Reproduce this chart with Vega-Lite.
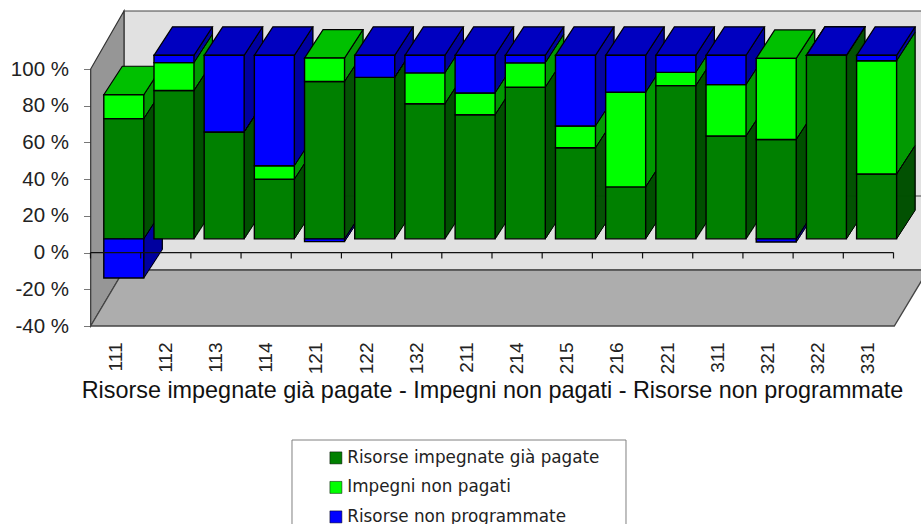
{
"$schema":"https://vega.github.io/schema/vega-lite/v6.json",
"autosize":{"type":"none"},
"padding":{"left":90.5,"top":69,"right":27.5,"bottom":198},
"width":803,"height":257,
"background":"white",
"config":{"view":{"stroke":null}},
"datasets":{"rows":[
{"cat":"111","series":"Risorse impegnate già pagate","order":1,"value":65.5},{"cat":"111","series":"Impegni non pagati","order":2,"value":13},{"cat":"111","series":"Risorse non programmate","order":3,"value":-21.3},
{"cat":"112","series":"Risorse impegnate già pagate","order":1,"value":80.8},{"cat":"112","series":"Impegni non pagati","order":2,"value":15.2},{"cat":"112","series":"Risorse non programmate","order":3,"value":4},
{"cat":"113","series":"Risorse impegnate già pagate","order":1,"value":58.2},{"cat":"113","series":"Impegni non pagati","order":2,"value":0},{"cat":"113","series":"Risorse non programmate","order":3,"value":41.8},
{"cat":"114","series":"Risorse impegnate già pagate","order":1,"value":32.5},{"cat":"114","series":"Impegni non pagati","order":2,"value":7.3},{"cat":"114","series":"Risorse non programmate","order":3,"value":60.2},
{"cat":"121","series":"Risorse impegnate già pagate","order":1,"value":85.7},{"cat":"121","series":"Impegni non pagati","order":2,"value":12.8},{"cat":"121","series":"Risorse non programmate","order":3,"value":-1.5},
{"cat":"122","series":"Risorse impegnate già pagate","order":1,"value":88},{"cat":"122","series":"Impegni non pagati","order":2,"value":0},{"cat":"122","series":"Risorse non programmate","order":3,"value":12},
{"cat":"132","series":"Risorse impegnate già pagate","order":1,"value":73.6},{"cat":"132","series":"Impegni non pagati","order":2,"value":16.8},{"cat":"132","series":"Risorse non programmate","order":3,"value":9.6},
{"cat":"211","series":"Risorse impegnate già pagate","order":1,"value":67.6},{"cat":"211","series":"Impegni non pagati","order":2,"value":11.9},{"cat":"211","series":"Risorse non programmate","order":3,"value":20.5},
{"cat":"214","series":"Risorse impegnate già pagate","order":1,"value":82.6},{"cat":"214","series":"Impegni non pagati","order":2,"value":13.3},{"cat":"214","series":"Risorse non programmate","order":3,"value":4.1},
{"cat":"215","series":"Risorse impegnate già pagate","order":1,"value":49.6},{"cat":"215","series":"Impegni non pagati","order":2,"value":11.9},{"cat":"215","series":"Risorse non programmate","order":3,"value":38.5},
{"cat":"216","series":"Risorse impegnate già pagate","order":1,"value":28.3},{"cat":"216","series":"Impegni non pagati","order":2,"value":51.6},{"cat":"216","series":"Risorse non programmate","order":3,"value":20.1},
{"cat":"221","series":"Risorse impegnate già pagate","order":1,"value":83.5},{"cat":"221","series":"Impegni non pagati","order":2,"value":7.2},{"cat":"221","series":"Risorse non programmate","order":3,"value":9.3},
{"cat":"311","series":"Risorse impegnate già pagate","order":1,"value":56},{"cat":"311","series":"Impegni non pagati","order":2,"value":28},{"cat":"311","series":"Risorse non programmate","order":3,"value":16},
{"cat":"321","series":"Risorse impegnate già pagate","order":1,"value":54.1},{"cat":"321","series":"Impegni non pagati","order":2,"value":44.2},{"cat":"321","series":"Risorse non programmate","order":3,"value":-1.7},
{"cat":"322","series":"Risorse impegnate già pagate","order":1,"value":100},{"cat":"322","series":"Impegni non pagati","order":2,"value":0},{"cat":"322","series":"Risorse non programmate","order":3,"value":0},
{"cat":"331","series":"Risorse impegnate già pagate","order":1,"value":35.3},{"cat":"331","series":"Impegni non pagati","order":2,"value":61.7},{"cat":"331","series":"Risorse non programmate","order":3,"value":3}
]},
"data":{"name":"rows"},
"transform":[{"stack":"value","groupby":["cat"],"sort":[{"field":"order"}],"as":["low","high"]}],
"encoding":{
"x":{"field":"cat","type":"ordinal","scale":{"type":"band","paddingInner":0,"paddingOuter":0,"domain":["111","112","113","114","121","122","132","211","214","215","216","221","311","321","322","331"]},
"axis":{"domain":false,"ticks":false,"labelAngle":-90,"labelAlign":"right","labelBaseline":"middle","labelPadding":16,"labelFont":"Liberation Sans","labelFontSize":19,"labelColor":"#222222","title":"Risorse impegnate già pagate - Impegni non pagati - Risorse non programmate","titleFont":"Liberation Sans","titleFontSize":23.4,"titleFontWeight":"normal","titleColor":"#111111","titlePadding":6}},
"y":{"field":"low","type":"quantitative","stack":null,"scale":{"domain":[-40,100],"nice":false,"zero":false},
"axis":{"values":[-40,-20,0,20,40,60,80,100],"labelExpr":"datum.value + ' %'","grid":false,"domain":false,"tickSize":7,"tickColor":"#777777","labelPadding":15,"labelFont":"Liberation Sans","labelFontSize":20.5,"labelColor":"#222222","title":null}}
},
"layer":[
{"transform":[{"filter":"datum.cat == '111' && datum.order == 1"}],"mark":{"type":"point","shape":"M8.4 -315 L819 -315 L819 -56 L8.4 -56 Z M8.4 -130 L819 -130","size":4,"filled":true,"fill":"#E1E1E1","stroke":"#444444","strokeWidth":1.2,"opacity":1},"encoding":{"y":{"datum":-40}}},
{"transform":[{"filter":"datum.cat == '111' && datum.order == 1"}],"mark":{"type":"point","shape":"M-24.9 -257 L8.4 -315 L8.4 -56 L-24.9 0 Z","size":4,"filled":true,"fill":"#969696","stroke":"#333333","strokeWidth":1.2,"opacity":1},"encoding":{"y":{"datum":-40}}},
{"transform":[{"filter":"datum.cat == '111' && datum.order == 1"}],"mark":{"type":"point","shape":"M-24.9 0 L8.4 -56 L812.4 -56 L778.7 0 Z","size":4,"filled":true,"fill":"#ADADAD","stroke":"#444444","strokeWidth":1.3,"opacity":1},"encoding":{"y":{"datum":-40}}},
{"transform":[{"filter":"datum.cat == '111' && datum.order == 1"}],"mark":{"type":"point","shape":"M176.4 114 L510.4 114 L510.4 230 L176.4 230 Z","size":4,"filled":false,"fill":"transparent","stroke":"#808080","strokeWidth":1,"opacity":1},"encoding":{"y":{"datum":-40}}},
{"encoding":{"y2":{"field":"high"},"stroke":{"field":"series","type":"nominal","legend":null,"scale":{"domain":["Impegni non pagati","Risorse impegnate già pagate","Risorse non programmate"],"range":["#009A00","#005000","#0000A0"]}}},
"layer":[
{"mark":{"type":"rule","strokeWidth":1.7,"opacity":1,"xOffset":28.7,"yOffset":-14.5,"y2Offset":-14.5}},
{"mark":{"type":"rule","strokeWidth":1.7,"opacity":1,"xOffset":29.7,"yOffset":-16,"y2Offset":-16}},
{"mark":{"type":"rule","strokeWidth":1.7,"opacity":1,"xOffset":30.7,"yOffset":-17.6,"y2Offset":-17.6}},
{"mark":{"type":"rule","strokeWidth":1.7,"opacity":1,"xOffset":31.7,"yOffset":-19.1,"y2Offset":-19.1}},
{"mark":{"type":"rule","strokeWidth":1.7,"opacity":1,"xOffset":32.7,"yOffset":-20.7,"y2Offset":-20.7}},
{"mark":{"type":"rule","strokeWidth":1.7,"opacity":1,"xOffset":33.7,"yOffset":-22.2,"y2Offset":-22.2}},
{"mark":{"type":"rule","strokeWidth":1.7,"opacity":1,"xOffset":34.7,"yOffset":-23.8,"y2Offset":-23.8}},
{"mark":{"type":"rule","strokeWidth":1.7,"opacity":1,"xOffset":35.7,"yOffset":-25.3,"y2Offset":-25.3}},
{"mark":{"type":"rule","strokeWidth":1.7,"opacity":1,"xOffset":36.7,"yOffset":-26.9,"y2Offset":-26.9}},
{"mark":{"type":"rule","strokeWidth":1.7,"opacity":1,"xOffset":37.7,"yOffset":-28.4,"y2Offset":-28.4}},
{"mark":{"type":"rule","strokeWidth":1.7,"opacity":1,"xOffset":38.7,"yOffset":-30,"y2Offset":-30}},
{"mark":{"type":"rule","strokeWidth":1.7,"opacity":1,"xOffset":39.7,"yOffset":-31.5,"y2Offset":-31.5}},
{"mark":{"type":"rule","strokeWidth":1.7,"opacity":1,"xOffset":40.7,"yOffset":-33.1,"y2Offset":-33.1}},
{"mark":{"type":"rule","strokeWidth":1.7,"opacity":1,"xOffset":41.7,"yOffset":-34.6,"y2Offset":-34.6}},
{"mark":{"type":"rule","strokeWidth":1.7,"opacity":1,"xOffset":42.7,"yOffset":-36.2,"y2Offset":-36.2}},
{"mark":{"type":"rule","strokeWidth":1.7,"opacity":1,"xOffset":43.7,"yOffset":-37.7,"y2Offset":-37.7}},
{"mark":{"type":"rule","strokeWidth":1.7,"opacity":1,"xOffset":44.7,"yOffset":-39.3,"y2Offset":-39.3}},
{"mark":{"type":"rule","strokeWidth":1.7,"opacity":1,"xOffset":45.7,"yOffset":-40.8,"y2Offset":-40.8}},
{"mark":{"type":"rule","strokeWidth":1.7,"opacity":1,"xOffset":46.2,"yOffset":-42,"y2Offset":-42}}
]},
{"mark":{"type":"rule","stroke":"#010101","strokeWidth":1.2,"opacity":1,"xOffset":46.7,"yOffset":-42.2,"y2Offset":-42.2},"encoding":{"y2":{"field":"high"}}},
{"mark":{"type":"point","shape":"M0 0 L18.5 -28.5","size":4,"filled":false,"fill":"transparent","stroke":"#010101","strokeWidth":1,"opacity":1,"xOffset":28.2,"yOffset":-13.7},"encoding":{"y":{"field":"high","type":"quantitative","stack":null}}},
{"mark":{"type":"point","shape":"M0 0 L18.5 -28.5","size":4,"filled":false,"fill":"transparent","stroke":"#010101","strokeWidth":1,"opacity":1,"xOffset":28.2,"yOffset":-13.7}},
{"transform":[{"joinaggregate":[{"op":"max","field":"high","as":"barTop"}],"groupby":["cat"]},{"filter":"datum.high == datum.barTop"}],
"mark":{"type":"point","shape":"M-11.8 0 L6.7 -28.5 L46.7 -28.5 L28.2 0 Z","size":4,"filled":true,"stroke":"#010101","strokeWidth":1.2,"opacity":1,"yOffset":-13.7},
"encoding":{"y":{"field":"high","type":"quantitative","stack":null},"fill":{"field":"series","type":"nominal","legend":null,"scale":{"domain":["Risorse non programmate","Impegni non pagati","Risorse impegnate già pagate"],"range":["#0000C0","#00C000","#006000"]}}}},
{"mark":{"type":"bar","size":40,"stroke":"#010101","strokeWidth":1.4,"opacity":1,"xOffset":8.2,"yOffset":-13.7,"y2Offset":-13.7},
"encoding":{"y2":{"field":"high"},"color":{"field":"series","type":"nominal","title":null,"scale":{"domain":["Risorse impegnate già pagate","Impegni non pagati","Risorse non programmate"],"range":["#008000","#00FF00","#0000FF"]},
"legend":{"orient":"none","legendX":237,"legendY":380.5,"zindex":1,"padding":0,"symbolType":"square","symbolSize":144,"symbolStrokeColor":"#010101","symbolStrokeWidth":0.5,"labelFont":"DejaVu Sans","labelFontSize":16.8,"labelColor":"#222222","labelOffset":3,"rowPadding":11.5,"labelLimit":300}}}},
{"transform":[{"filter":"datum.cat == '111' && datum.order == 1"}],"mark":{"type":"rule","stroke":"#111111","strokeWidth":1.2,"opacity":1},"encoding":{"x":null,"y":{"datum":0}}},
{"transform":[{"filter":"datum.order == 1"}],"mark":{"type":"rule","stroke":"#111111","strokeWidth":1.2,"opacity":1,"xOffset":-25.1},"encoding":{"y":{"datum":0},"y2":{"datum":-3.2}}},
{"transform":[{"filter":"datum.cat == '331' && datum.order == 1"}],"mark":{"type":"rule","stroke":"#111111","strokeWidth":1.2,"opacity":1,"xOffset":25.1},"encoding":{"y":{"datum":0},"y2":{"datum":-3.2}}}
]
}
